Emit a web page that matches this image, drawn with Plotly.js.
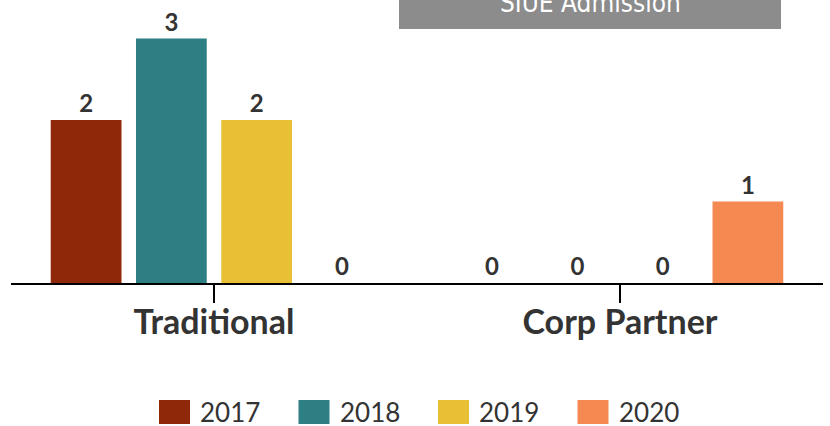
<!DOCTYPE html>
<html><head><meta charset="utf-8">
<script src="https://cdn.plot.ly/plotly-3.0.1.min.js"></script>
<style>html,body{margin:0;padding:0;background:#fff;}</style>
</head><body>
<div id="chart" style="width:830px;height:426px;"></div>
<script>
const categories = ["Traditional", "Corp Partner"];
const seriesNames = ["2017", "2018", "2019", "2020"];
const values2017 = [2, 0];
const values2018 = [3, 0];
const values2019 = [2, 0];
const values2020 = [0, 1];
const colors = ["#8f2808", "#2e7f84", "#e8c036", "#f48a52"];
const titleText = "SIUE Admission";

const allValues = [values2017, values2018, values2019, values2020];
const W = 830, H = 426;
const M = {l: 11, r: 7, t: 0, b: 143};
const pw = W - M.l - M.r, ph = H - M.t - M.b;
const px = x => (x - M.l) / pw;
const py = y => (H - M.b - y) / ph;

const traces = seriesNames.map((n, i) => ({
  type: 'bar', name: n, x: categories, y: allValues[i],
  marker: {color: colors[i]},
  texttemplate: '%{y}', textposition: 'outside', cliponaxis: false,
  textfont: {family: 'Lato', size: 24, color: '#333333', weight: 700},
  showlegend: false, hoverinfo: 'none'
}));

const shapes = [
  {type: 'rect', xref: 'paper', yref: 'paper', x0: px(399), x1: px(781), y0: py(29), y1: py(-20),
   fillcolor: '#8c8c8c', line: {width: 0}, layer: 'above'}
];
const annotations = [
  {xref: 'paper', yref: 'paper', x: px(590), y: py(3), xanchor: 'center', yanchor: 'middle',
   text: titleText, showarrow: false,
   font: {family: 'DejaVu Sans Condensed, Liberation Sans Narrow, Roboto, sans-serif', size: 26, color: '#ffffff', weight: 300}}
];
seriesNames.forEach((n, i) => {
  const left = 159 + i * 139.5;
  shapes.push({type: 'rect', xref: 'paper', yref: 'paper', x0: px(left), x1: px(left + 31),
    y0: py(424), y1: py(400), fillcolor: colors[i], line: {width: 0}});
  annotations.push({xref: 'paper', yref: 'paper', x: px(left + 39), y: py(412),
    xanchor: 'left', yanchor: 'middle', text: n, showarrow: false,
    font: {family: 'Lato', size: 26, color: '#333333'}});
});

const layout = {
  width: W, height: H, margin: M,
  paper_bgcolor: '#ffffff', plot_bgcolor: '#ffffff',
  barmode: 'group', bargap: 0.16, bargroupgap: 0.17,
  showlegend: false,
  xaxis: {showline: true, linecolor: '#000000', linewidth: 2, ticks: 'outside', ticklen: 18,
    tickwidth: 2, tickcolor: '#000000', showgrid: false, zeroline: false, ticklabelstandoff: -10,
    tickfont: {family: 'Lato', size: 34, color: '#333333', weight: 700}},
  yaxis: {visible: false, range: [0, ph / 81.5], showgrid: false, zeroline: false},
  shapes: shapes, annotations: annotations
};
Plotly.newPlot('chart', traces, layout, {staticPlot: true, displayModeBar: false});
</script>
</body></html>
